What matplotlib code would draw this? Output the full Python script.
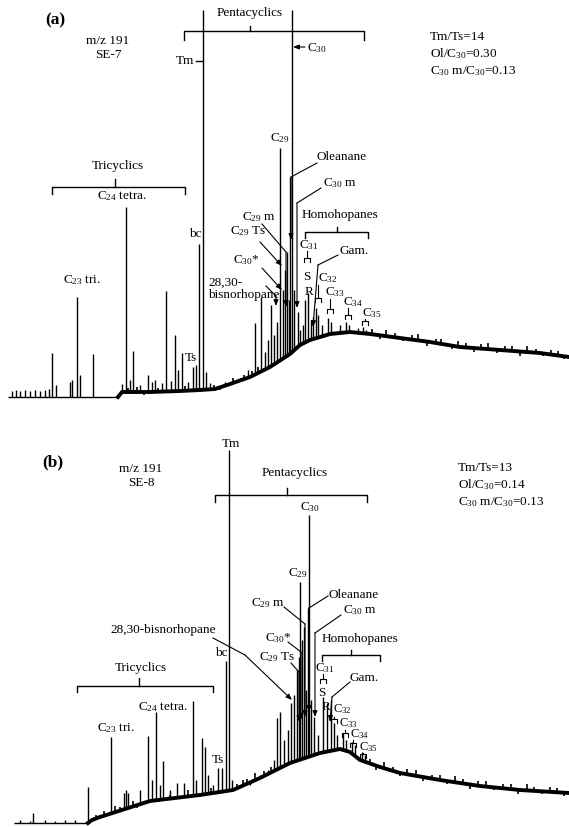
import matplotlib
matplotlib.use('Agg')
import matplotlib.pyplot as plt
import numpy as np

plt.rcParams['font.family'] = ['Liberation Serif', 'DejaVu Serif']
plt.rcParams['mathtext.fontset'] = 'custom'
plt.rcParams['mathtext.rm'] = 'Liberation Serif'
plt.rcParams['mathtext.it'] = 'Liberation Serif:italic'
plt.rcParams['mathtext.bf'] = 'Liberation Serif:bold'

# ---------------- Panel (a) : SE-7, m/z 191 ----------------
a_base_x = [8, 118, 122, 150, 180, 200, 215, 230, 250, 270, 290, 300, 310, 330, 350,
            370, 400, 430, 460, 500, 540, 569]
a_base_y = [3, 3, 8, 8, 9, 10, 11, 16, 23, 33, 46, 55, 60, 66, 68, 66, 62, 58, 53, 50, 47, 43]
a_peak_x = [12, 16, 20, 25, 30, 35, 40, 45, 49,
            52, 56, 70, 72, 77, 80, 93,
            122, 126, 130, 133, 140, 148, 152, 155, 162, 166, 171, 175, 178, 182, 188, 193, 196,
            199, 203, 206, 210,
            225, 240, 248, 255, 261, 265, 268, 271, 274, 277, 280, 283, 285, 287, 289, 290, 292,
            294, 298, 300, 303, 305, 308, 311, 313, 316, 318, 322, 328, 331, 340, 346, 349, 358,
            363, 366]
a_peak_y = [9, 10, 9, 10, 9, 10, 9, 10, 11,
            47, 15, 18, 20, 103, 25, 46,
            16, 193, 20, 49, 15, 25, 18, 20, 17, 109, 19, 65, 30, 47, 18, 33, 35,
            156, 390, 28, 17,
            18, 22, 30, 77, 103, 48, 60, 95, 65, 78, 252, 110, 130, 148, 100, 223, 390,
            110, 88, 70, 75, 100, 107, 80, 83, 92, 85, 75, 82, 78, 75, 78, 75, 72,
            73, 70]
# small baseline wiggles (deviation from baseline, signal units)
a_noise_x = [128, 137, 144, 158, 185, 214, 220, 233, 244, 252, 258, 372, 380, 386, 395, 403,
             412, 418, 427, 436, 441, 452, 458, 466, 474, 481, 488, 497, 505, 512, 520, 527,
             536, 543, 551, 558, 564]
a_noise_d = [4, 5, -3, 4, 5, 4, -3, 5, 4, 5, 6, 5, -4, 6, 4, -3, 5, 6, -4, 4, 5, -3, 6, 4,
             -4, 5, 6, -3, 4, 5, -4, 6, 4, -3, 5, 4, -3]
a_ratios = ['Tm/Ts=14', 'Ol/C$_{30}$=0.30', 'C$_{30}$ m/C$_{30}$=0.13']

# ---------------- Panel (b) : SE-8, m/z 191 ----------------
b_base_x = [14, 88, 92, 100, 150, 200, 233, 260, 290, 320, 340, 350, 360, 380, 400,
            440, 480, 520, 569]
b_base_y = [4, 4, 7, 10, 26, 32, 37, 49, 64, 74, 78, 75, 67, 60, 54, 47, 41, 37, 34]
b_peak_x = [20, 30, 33, 45, 55, 65, 75, 88,
            111, 124, 126, 128, 140, 148, 152, 156, 160, 163, 170, 177, 184, 193, 196,
            202, 205, 208, 213, 218, 222, 226, 229, 232,
            250, 260, 268, 274, 277, 280, 284, 288, 291, 294, 297, 299, 300, 302, 304, 306,
            308, 309, 311, 314, 318, 323, 327, 331, 334, 337, 343, 346, 352, 355, 362, 365]
b_peak_y = [7, 6, 14, 7, 6, 7, 7, 40,
            90, 34, 37, 34, 37, 91, 47, 115, 42, 66, 37, 44, 44, 126, 47,
            89, 80, 52, 42, 59, 59, 166, 377, 47,
            42, 52, 57, 67, 109, 115, 87, 97, 124, 132, 157, 170, 245, 187, 200, 137,
            219, 312, 127, 110, 92, 130, 124, 127, 104, 92, 94, 87, 85, 82, 75, 72]
b_noise_x = [96, 104, 115, 120, 133, 137, 170, 188, 211, 237, 243, 247, 255, 264, 271, 370,
             376, 384, 393, 400, 407, 416, 423, 432, 440, 447, 455, 463, 470, 478, 486, 494,
             503, 511, 518, 527, 534, 542, 550, 557, 564]
b_noise_d = [4, 5, 6, 4, 5, -3, 4, 6, 5, 4, 6, 5, 7, 5, 6, 5, -4, 6, 4, -3, 5, 6, -4, 4, 5,
             -3, 6, 4, -4, 5, 6, -3, 4, 5, -4, 6, 4, -3, 5, 4, -3]
b_ratios = ['Tm/Ts=13', 'Ol/C$_{30}$=0.14', 'C$_{30}$ m/C$_{30}$=0.13']

FS = 9.5
K = 'black'

fig = plt.figure(figsize=(5.69, 8.27), dpi=100)
fig.patch.set_facecolor('white')
ax_a = fig.add_axes([0, 1 - 400 / 827, 1, 400 / 827])
ax_b = fig.add_axes([0, 0, 1, 427 / 827])
ax_a.set_xlim(0, 569); ax_a.set_ylim(0, 400)
ax_b.set_xlim(0, 569); ax_b.set_ylim(0, 427)
for ax in (ax_a, ax_b):
    ax.axis('off')


def draw_trace(ax, bx, by, px, py, nx, nd, flat_n):
    bx = np.asarray(bx, float); by = np.asarray(by, float)
    px = np.asarray(px, float); py = np.asarray(py, float)
    nx = np.asarray(nx, float); nd = np.asarray(nd, float)
    ax.plot(bx[:flat_n], by[:flat_n], color=K, lw=1.0, solid_capstyle='butt')
    ax.plot(bx[flat_n - 1:], by[flat_n - 1:], color=K, lw=2.8, solid_joinstyle='round')
    foot = np.interp(px, bx, by)
    ax.vlines(px, foot, py, color=K, lw=1.0)
    nfoot = np.interp(nx, bx, by)
    ax.vlines(nx, nfoot, nfoot + nd, color=K, lw=1.2)


def txt(ax, x, y, s, ha='left', size=FS, **kw):
    ax.text(x, y, s, ha=ha, va='center', fontsize=size, color=K, **kw)


def bracket(ax, x0, x1, y, drop, xt, rise):
    ax.plot([x0, x0, x1, x1], [y - drop, y, y, y - drop], color=K, lw=1.0)
    ax.plot([xt, xt], [y, y + rise], color=K, lw=1.0)


def pointer(ax, xs, ys, arrow=True):
    ax.plot(xs[:-1], ys[:-1], color=K, lw=0.8)
    if arrow:
        ax.annotate('', xy=(xs[-1], ys[-1]), xytext=(xs[-2], ys[-2]),
                    arrowprops=dict(arrowstyle='-|>,head_length=0.35,head_width=0.14',
                                    lw=0.8, color=K, shrinkA=0, shrinkB=0))
    else:
        ax.plot(xs[-2:], ys[-2:], color=K, lw=0.8)


def cap(ax, x, ytop, stem=0, w=3, h=4):
    if stem:
        ax.plot([x, x], [ytop, ytop + stem], color=K, lw=0.8)
    ax.plot([x - w, x - w, x + w, x + w], [ytop - h, ytop, ytop, ytop - h], color=K, lw=0.8)


# ================= Panel (a) =================
draw_trace(ax_a, a_base_x, a_base_y, a_peak_x, a_peak_y, a_noise_x, a_noise_d, 2)
txt(ax_a, 55, 380, '(a)', ha='center', size=12.5, fontweight='bold')
txt(ax_a, 108, 359, 'm/z 191', ha='center')
txt(ax_a, 108, 345, 'SE-7', ha='center')
txt(ax_a, 250, 387, 'Pentacyclics', ha='center')
bracket(ax_a, 184, 364, 369, 9, 250, 5)
txt(ax_a, 194, 339, 'Tm', ha='right')
ax_a.plot([196, 203], [339, 339], color=K, lw=1.0)
ax_a.annotate('', xy=(293, 353), xytext=(305, 353),
              arrowprops=dict(arrowstyle='-|>,head_length=0.35,head_width=0.14',
                              lw=0.8, color=K, shrinkA=0, shrinkB=0))
txt(ax_a, 307, 352, 'C$_{30}$')
for i, s in enumerate(a_ratios):
    txt(ax_a, 430, 363 - 17 * i, s)
txt(ax_a, 118, 234, 'Tricyclics', ha='center')
bracket(ax_a, 52, 185, 213, 7, 115, 8)
txt(ax_a, 122, 204, 'C$_{24}$ tetra.', ha='center')
txt(ax_a, 82, 120, 'C$_{23}$ tri.', ha='center')
txt(ax_a, 195, 166, 'bc', ha='center')
txt(ax_a, 191, 42, 'Ts', ha='center')
txt(ax_a, 280, 262, 'C$_{29}$', ha='center')
txt(ax_a, 317, 243, 'Oleanane')
txt(ax_a, 323, 217, 'C$_{30}$ m')
txt(ax_a, 242, 183, 'C$_{29}$ m')
txt(ax_a, 230, 169, 'C$_{29}$ Ts')
txt(ax_a, 233, 140, 'C$_{30}$*')
txt(ax_a, 208, 117, '28,30-')
txt(ax_a, 208, 105, 'bisnorhopane')
pointer(ax_a, [317, 291, 291], [237, 223, 160])
pointer(ax_a, [321, 297, 297], [212, 197, 92])
pointer(ax_a, [262, 286, 286], [176, 148, 93])
pointer(ax_a, [260, 282], [158, 134])
pointer(ax_a, [262, 282], [132, 110])
pointer(ax_a, [266, 276, 276], [114, 104, 94])
txt(ax_a, 340, 185, 'Homohopanes', ha='center')
bracket(ax_a, 305, 368, 168, 6, 337, 5)
txt(ax_a, 309, 155, 'C$_{31}$', ha='center')
cap(ax_a, 307, 142, stem=7)
txt(ax_a, 307, 123, 'S', ha='center')
txt(ax_a, 309, 108, 'R', ha='center')
txt(ax_a, 340, 149, 'Gam.')
pointer(ax_a, [338, 318, 313], [145, 135, 73])
txt(ax_a, 318, 122, 'C$_{32}$')
cap(ax_a, 318, 102, stem=13)
txt(ax_a, 325, 108, 'C$_{33}$')
cap(ax_a, 330, 91, stem=10)
txt(ax_a, 343, 98, 'C$_{34}$')
cap(ax_a, 348, 85, stem=7)
txt(ax_a, 362, 87, 'C$_{35}$')
cap(ax_a, 365, 79, stem=2)

# ================= Panel (b) =================
draw_trace(ax_b, b_base_x, b_base_y, b_peak_x, b_peak_y, b_noise_x, b_noise_d, 2)
txt(ax_b, 53, 365, '(b)', ha='center', size=12.5, fontweight='bold')
txt(ax_b, 141, 358, 'm/z 191', ha='center')
txt(ax_b, 141, 344, 'SE-8', ha='center')
txt(ax_b, 231, 383, 'Tm', ha='center')
txt(ax_b, 295, 354, 'Pentacyclics', ha='center')
bracket(ax_b, 215, 367, 332, 7, 287, 7)
txt(ax_b, 310, 320, 'C$_{30}$', ha='center')
for i, s in enumerate(b_ratios):
    txt(ax_b, 458, 359 - 17 * i, s)
txt(ax_b, 298, 254, 'C$_{29}$', ha='center')
txt(ax_b, 329, 232, 'Oleanane')
txt(ax_b, 343, 217, 'C$_{30}$ m')
txt(ax_b, 251, 224, 'C$_{29}$ m')
txt(ax_b, 110, 197, '28,30-bisnorhopane')
txt(ax_b, 265, 189, 'C$_{30}$*')
txt(ax_b, 259, 170, 'C$_{29}$ Ts')
txt(ax_b, 221, 174, 'bc', ha='center')
txt(ax_b, 218, 67, 'Ts', ha='center')
pointer(ax_b, [328, 309, 309], [231, 219, 115])
pointer(ax_b, [341, 315, 315], [212, 194, 110])
pointer(ax_b, [284, 305, 305], [220, 203, 110])
pointer(ax_b, [288, 301, 301], [185, 175, 107])
pointer(ax_b, [291, 299, 299], [164, 155, 105])
pointer(ax_b, [213, 245, 292], [189, 172, 127])
txt(ax_b, 141, 159, 'Tricyclics', ha='center')
bracket(ax_b, 77, 213, 141, 6, 139, 8)
txt(ax_b, 138, 120, 'C$_{24}$ tetra.')
txt(ax_b, 97, 99, 'C$_{23}$ tri.')
txt(ax_b, 322, 188, 'Homohopanes')
bracket(ax_b, 322, 380, 172, 6, 351, 5)
txt(ax_b, 325, 159, 'C$_{31}$', ha='center')
cap(ax_b, 323, 148, stem=5)
txt(ax_b, 322, 134, 'S', ha='center')
txt(ax_b, 326, 120, 'R', ha='center')
txt(ax_b, 350, 149, 'Gam.')
pointer(ax_b, [350, 332, 330], [145, 130, 105])
txt(ax_b, 333, 118, 'C$_{32}$', size=9)
cap(ax_b, 334, 108, stem=2)
txt(ax_b, 339, 104, 'C$_{33}$', size=9)
cap(ax_b, 345, 94, stem=3)
txt(ax_b, 350, 93, 'C$_{34}$', size=9)
cap(ax_b, 353, 84, stem=3)
txt(ax_b, 359, 80, 'C$_{35}$', size=9)
cap(ax_b, 363, 73, stem=1)

fig.savefig('out.png', dpi=100, facecolor='white')
